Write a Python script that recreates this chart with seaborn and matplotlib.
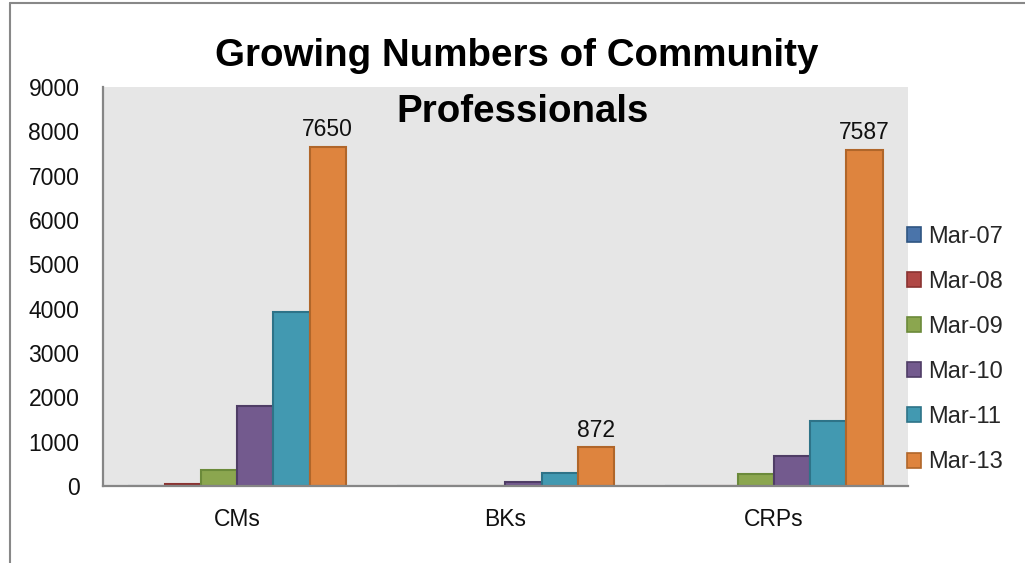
import matplotlib
matplotlib.use("Agg")
import matplotlib.pyplot as plt
from matplotlib.patches import Patch
from matplotlib.lines import Line2D
import seaborn as sns
import pandas as pd

categories = ["CMs", "BKs", "CRPs"]
periods = ["Mar-07", "Mar-08", "Mar-09", "Mar-10", "Mar-11", "Mar-13"]
mar07 = [0, 0, 0]
mar08 = [40, 0, 0]
mar09 = [360, 0, 270]
mar10 = [1800, 100, 680]
mar11 = [3930, 290, 1470]
mar13 = [7650, 872, 7587]
series = [mar07, mar08, mar09, mar10, mar11, mar13]
y_ticks = [0, 1000, 2000, 3000, 4000, 5000, 6000, 7000, 8000, 9000]
title_line1 = "Growing Numbers of Community"
title_line2 = "Professionals"

fills = ["#4A74AA", "#B04845", "#8BA64F", "#735A8E", "#4299B1", "#DE843E"]
edges = ["#2F5582", "#8A3331", "#6B8A3A", "#4F3D66", "#2E7388", "#B0662A"]

rows = []
for p, vals in zip(periods, series):
    for c, v in zip(categories, vals):
        rows.append({"cat": c, "period": p, "val": v})
df = pd.DataFrame(rows)

sns.set_style("white")
plt.rcParams["font.family"] = ["Liberation Sans", "DejaVu Sans"]

fig = plt.figure(figsize=(10.25, 5.63), dpi=100)
ax = fig.add_axes([103 / 1025, 1 - 486 / 563, (908 - 103) / 1025, (486 - 87) / 563])
ax.set_facecolor("#E6E6E6")

sns.barplot(data=df, x="cat", y="val", hue="period", hue_order=periods,
            order=categories, palette=fills, saturation=1, width=0.81, gap=0,
            legend=False, ax=ax, linewidth=1.5)

for cont, ec in zip(ax.containers, edges):
    for patch in cont:
        patch.set_edgecolor(ec)
        patch.set_linewidth(1.5)

ax.bar_label(ax.containers[-1], labels=[f"{v:g}" for v in mar13],
             padding=4, fontsize=16.5, color="#111111")

ax.set_ylim(0, 9000)
ax.set_xlim(-0.5, 2.5)
ax.set_yticks(y_ticks)
ax.set_yticklabels([str(t) for t in y_ticks])
ax.set_xlabel("")
ax.set_ylabel("")
ax.tick_params(axis="y", length=0, pad=17, labelsize=16.5, labelcolor="#111111")
ax.tick_params(axis="x", length=0, pad=16, labelsize=16.5, labelcolor="#111111")
for s in ["top", "right"]:
    ax.spines[s].set_visible(False)
for s in ["left", "bottom"]:
    ax.spines[s].set_color("#868686")
    ax.spines[s].set_linewidth(1.6)
    ax.spines[s].set_zorder(5)

handles = [Patch(facecolor=f, edgecolor=e, linewidth=1.2) for f, e in zip(fills, edges)]
fig.legend(handles, periods, loc="center left",
           bbox_to_anchor=(907 / 1025, 1 - 349.5 / 563),
           frameon=False, fontsize=17, handlelength=0.6, handleheight=0.6,
           handletextpad=0.3, labelspacing=0.98, borderpad=0, borderaxespad=0)

fig.text(516.5 / 1025, 1 - 66 / 563, title_line1, ha="center", va="baseline",
         fontsize=27.7, fontweight="bold", color="black")
fig.text(523 / 1025, 1 - 122 / 563, title_line2, ha="center", va="baseline",
         fontsize=27.7, fontweight="bold", color="black")

fig.add_artist(Line2D([10 / 1025, 1.0], [1 - 3 / 563, 1 - 3 / 563],
                      transform=fig.transFigure, color="#888888", linewidth=1.5))
fig.add_artist(Line2D([10 / 1025, 10 / 1025], [0, 1 - 3 / 563],
                      transform=fig.transFigure, color="#888888", linewidth=1.5))

fig.savefig("out.png", dpi=100)
